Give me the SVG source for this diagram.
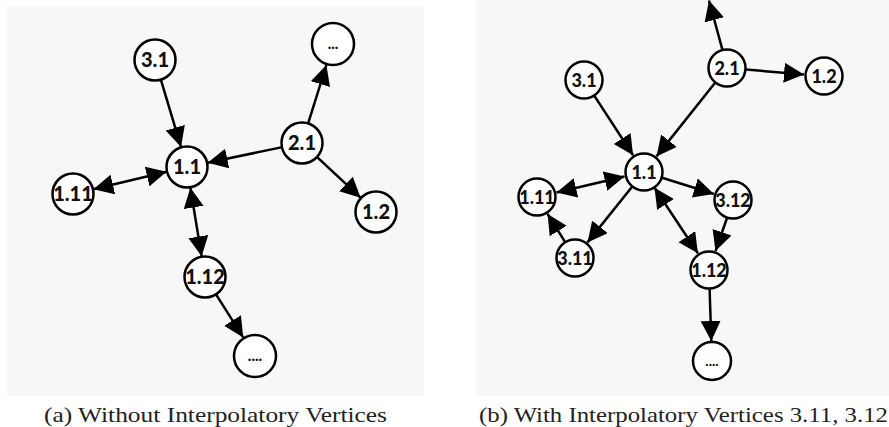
<svg xmlns="http://www.w3.org/2000/svg" width="889" height="427" viewBox="0 0 889 427">
<defs>
<style>
.bg{fill:#f7f7f7}
.nd circle{fill:#fff;stroke:#000;stroke-width:2.5}
.a text{font-family:Lato,"Liberation Sans",sans-serif;font-weight:900;font-size:20px;fill:#111;text-anchor:middle}
.b text{font-family:Lato,"Liberation Sans",sans-serif;font-weight:900;font-size:18px;fill:#111;text-anchor:middle}
.e line{stroke:#000;stroke-width:2.5;marker-end:url(#ah)}
.e line.bi{marker-start:url(#ah)}
.cap{font-family:"Liberation Serif","DejaVu Serif",serif;font-size:21px;fill:#222}
</style>
<marker id="ah" markerUnits="userSpaceOnUse" markerWidth="24" markerHeight="24" refX="20" refY="10" orient="auto-start-reverse">
<path d="M0,0 L20,10 L0,20 z" fill="#000"/>
</marker>
</defs>
<rect class="bg" x="7" y="6" width="417" height="390"/>
<rect class="bg" x="476" y="0" width="413" height="396"/>

<g id="edges-a" class="e">
<line x1="160.7" y1="79.2" x2="181" y2="146.9"/>
<line x1="308" y1="123.9" x2="326.4" y2="65"/>
<line x1="282.4" y1="147.1" x2="207.6" y2="162.7"/>
<line x1="316.6" y1="156.6" x2="360.6" y2="197.7"/>
<line class="bi" x1="93.4" y1="189.2" x2="166.6" y2="171.8"/>
<line class="bi" x1="190.4" y1="187.7" x2="201.6" y2="256.3"/>
<line x1="215.7" y1="293.9" x2="243.2" y2="337.4"/>
</g>

<g class="a">
<g id="a-3.1" class="nd"><circle cx="155" cy="60" r="20.5"/><text x="155" y="67">3.1</text></g>
<g id="a-dots3" class="nd"><circle cx="333" cy="44" r="21"/><text x="333" y="49" style="font-size:15px">...</text></g>
<g id="a-2.1" class="nd"><circle cx="302" cy="143" r="20.5"/><text x="302" y="150">2.1</text></g>
<g id="a-1.1" class="nd"><circle cx="187" cy="167" r="20.5"/><text x="187" y="174">1.1</text></g>
<g id="a-1.11" class="nd"><circle cx="73" cy="194" r="20.5"/><text x="73" y="201">1.11</text></g>
<g id="a-1.2" class="nd"><circle cx="376" cy="212" r="20.5"/><text x="376" y="219">1.2</text></g>
<g id="a-1.12" class="nd"><circle cx="205" cy="277" r="20.5"/><text x="205" y="284">1.12</text></g>
<g id="a-dots4" class="nd"><circle cx="255" cy="356" r="21"/><text x="255" y="361" style="font-size:15px">....</text></g>
</g>

<g id="edges-b" class="e">
<line x1="722.4" y1="49.6" x2="709" y2="0.5"/>
<line x1="746" y1="69.6" x2="804" y2="74.4"/>
<line x1="594.4" y1="95.9" x2="633.1" y2="155.2"/>
<line x1="715.1" y1="82.8" x2="656.5" y2="156.4"/>
<line class="bi" x1="556.5" y1="192.5" x2="624.5" y2="176.5"/>
<line x1="662.1" y1="177.7" x2="713.9" y2="194"/>
<line x1="632.1" y1="186.8" x2="587.5" y2="242.4"/>
<line x1="565" y1="241.9" x2="547.6" y2="214"/>
<line class="bi" x1="654.5" y1="187.8" x2="697.9" y2="253.3"/>
<line x1="727" y1="218" x2="715.5" y2="251.1"/>
<line x1="709.6" y1="289" x2="711.3" y2="341"/>
</g>

<g class="b">
<g id="b-2.1" class="nd"><circle cx="727" cy="68" r="18.5"/><text x="727" y="74.5">2.1</text></g>
<g id="b-1.2" class="nd"><circle cx="824" cy="76" r="18.5"/><text x="824" y="82.5">1.2</text></g>
<g id="b-3.1" class="nd"><circle cx="584" cy="80" r="18.5"/><text x="584" y="86.5">3.1</text></g>
<g id="b-1.1" class="nd"><circle cx="644" cy="172" r="18.5"/><text x="644" y="178.5">1.1</text></g>
<g id="b-1.11" class="nd"><circle cx="537" cy="197" r="18.5"/><text x="537" y="203.5">1.11</text></g>
<g id="b-3.12" class="nd"><circle cx="733" cy="200" r="18.5"/><text x="733" y="206.5">3.12</text></g>
<g id="b-3.11" class="nd"><circle cx="575" cy="258" r="18.5"/><text x="575" y="264.5">3.11</text></g>
<g id="b-1.12" class="nd"><circle cx="709" cy="270" r="18.5"/><text x="709" y="276.5">1.12</text></g>
<g id="b-dots4" class="nd"><circle cx="712" cy="361" r="19"/><text x="712" y="366" style="font-size:14px">....</text></g>
</g>

<text class="cap" x="44" y="422" textLength="343" lengthAdjust="spacingAndGlyphs">(a) Without Interpolatory Vertices</text>
<text class="cap" x="479" y="422" textLength="409" lengthAdjust="spacingAndGlyphs">(b) With Interpolatory Vertices 3.11, 3.12</text>
</svg>
